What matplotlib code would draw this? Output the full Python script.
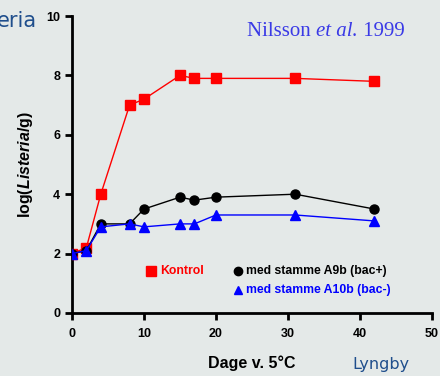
import matplotlib.pyplot as plt

# dage ved 5 grader
dage = [0, 2, 4, 8, 10, 15, 17, 20, 31, 42]
kontrol = [2.0, 2.2, 4.0, 7.0, 7.2, 8.0, 7.9, 7.9, 7.9, 7.8]
a9b = [2.0, 2.1, 3.0, 3.0, 3.5, 3.9, 3.8, 3.9, 4.0, 3.5]
a10b = [2.0, 2.1, 2.9, 3.0, 2.9, 3.0, 3.0, 3.3, 3.3, 3.1]

x_ticks = [0, 10, 20, 30, 40, 50]
y_ticks = [0, 2, 4, 6, 8, 10]

bg = '#e4e9e8'
plt.rcParams['font.family'] = ['Liberation Sans', 'DejaVu Sans']
plt.rcParams['mathtext.fontset'] = 'custom'
plt.rcParams['mathtext.rm'] = 'Liberation Sans:bold'
plt.rcParams['mathtext.bf'] = 'Liberation Sans:bold'
plt.rcParams['mathtext.it'] = 'Liberation Sans:italic:bold'

fig = plt.figure(figsize=(4.4, 3.76), dpi=100, facecolor=bg)
ax = fig.add_axes([0.1636, 0.1676, 0.8182, 0.7898], facecolor=bg)

ax.plot(dage, kontrol, color='red', lw=1, marker='s', ms=6.5, zorder=3)
ax.plot(dage, a9b, color='black', lw=1, marker='o', ms=6.5, zorder=4)
ax.plot(dage, a10b, color='blue', lw=1, marker='^', ms=6.5, zorder=5)

ax.set_xlim(0, 50)
ax.set_ylim(0, 10)
ax.set_xticks(x_ticks)
ax.set_yticks(y_ticks)
for s in ['top', 'right']:
    ax.spines[s].set_visible(False)
for s in ['left', 'bottom']:
    ax.spines[s].set_linewidth(2)
ax.tick_params(width=2, length=5, labelsize=9)
for lab in ax.get_xticklabels() + ax.get_yticklabels():
    lab.set_fontweight('bold')
ax.tick_params(axis='x', pad=6)

ax.set_xlabel('Dage v. 5°C', fontsize=11.5, fontweight='bold', labelpad=11)
ax.set_ylabel(r'log($\it{Listeria}$/g)', fontsize=11.5, fontweight='bold', labelpad=8)

# legend placeret inde i plottet
ax.plot([11], [1.41], 's', color='red', ms=7, clip_on=False)
ax.text(12.2, 1.41, 'Kontrol', color='red', fontsize=8.8, fontweight='bold', va='center')
ax.plot([23], [1.41], 'o', color='black', ms=6, clip_on=False)
ax.text(24.2, 1.41, 'med stamme A9b (bac+)', color='black', fontsize=8.8, fontweight='bold', va='center')
ax.plot([23], [0.78], '^', color='blue', ms=6, clip_on=False)
ax.text(24.2, 0.78, 'med stamme A10b (bac-)', color='blue', fontsize=8.8, fontweight='bold', va='center')

# "Nilsson et al. 1999" i stykker, saa kun "et al." er kursiv
fig.canvas.draw()
renderer = fig.canvas.get_renderer()
x = 247
blue_txt = '#3a3ae6'
for part, style in [('Nilsson ', 'normal'), ('et al.', 'italic'), (' 1999', 'normal')]:
    t = fig.text(x / 440, 0.915, part, color=blue_txt, fontsize=15, style=style,
                 family=['Liberation Serif'], ha='left', va='center')
    x += t.get_window_extent(renderer).width

fig.text(0.085, 0.945, 'eria', color='#1f4e8c', fontsize=15, family=['DejaVu Sans'],
         ha='right', va='center')
fig.text(0.93, 0.03, 'Lyngby', color='#1f4e8c', fontsize=11.5, family=['DejaVu Sans'],
         ha='right', va='center')

plt.savefig('out.png', dpi=100, facecolor=bg)
